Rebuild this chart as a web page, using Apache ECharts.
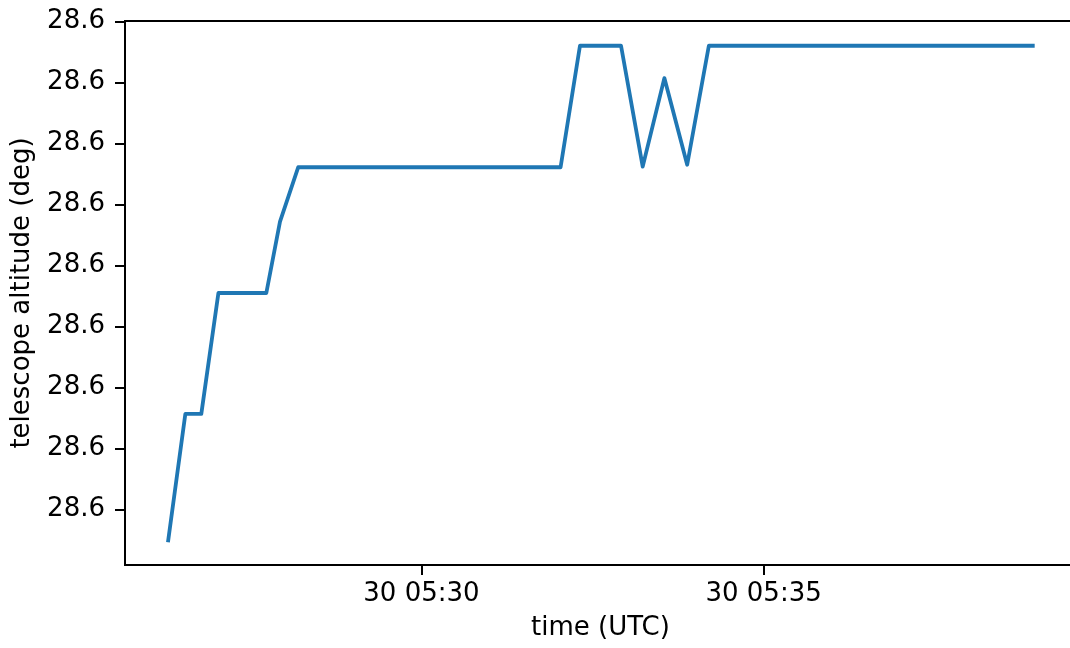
<!DOCTYPE html>
<html>
<head>
<meta charset="utf-8">
<script src="https://cdn.jsdelivr.net/npm/echarts@6/dist/echarts.min.js"></script>
<style>
html,body{margin:0;padding:0;background:#fff;}
#chart{width:1070px;height:648px;}
</style>
</head>
<body>
<div id="chart"></div>
<script>
// ---- data ----
const day = '2022-11-30';
const times = ['05:26:18','05:26:33','05:26:47','05:27:02','05:27:44','05:27:56','05:28:12',
               '05:32:02','05:32:19','05:32:55','05:33:14','05:33:33','05:33:53','05:34:12','05:38:56'];
// altitude offsets above 28.6 deg, in units of 1e-6 deg
const altitude = [-0.50, 1.57, 1.57, 3.55, 3.55, 4.72, 5.61,
                  5.61, 7.60, 7.60, 5.62, 7.07, 5.65, 7.60, 7.60];
const xTickTimes = ['05:30:00','05:35:00'];
const yTickValues = [0,1,2,3,4,5,6,7,8];
const yTickLabels = ['28.6','28.6','28.6','28.6','28.6','28.6','28.6','28.6','28.6'];

function ts(t){
  const [Y,M,D] = day.split('-').map(Number);
  const [h,m,s] = t.split(':').map(Number);
  return Date.UTC(Y, M-1, D, h, m, s);
}
function pad(n){return (n<10?'0':'')+n;}

const xs = times.map(ts);
const xTickValues = xTickTimes.map(ts);
const xMinD = Math.min(...xs), xMaxD = Math.max(...xs);
const yMinD = Math.min(...altitude), yMaxD = Math.max(...altitude);
const xm = (xMaxD - xMinD) * 0.05, ym = (yMaxD - yMinD) * 0.05;

const font = 'DejaVu Sans';
const chart = echarts.init(document.getElementById('chart'));
chart.setOption({
  animation: false,
  backgroundColor: '#fff',
  grid: {left:125, top:21, width:951, height:544, outerBoundsMode:'none', containLabel:false,
         show:true, borderColor:'#000', borderWidth:2, backgroundColor:'transparent'},
  xAxis: {
    type: 'value', min: xMinD - xm, max: xMaxD + xm,
    axisLine: {show:true, onZero:false, lineStyle:{color:'#000', width:2}},
    axisTick: {show:true, length:10, lineStyle:{color:'#000', width:2}, customValues: xTickValues},
    axisLabel: {customValues: xTickValues, fontSize:26, color:'#000', fontFamily:font, margin:16,
      formatter: v => { const d = new Date(v); return pad(d.getUTCDate()) + ' ' + pad(d.getUTCHours()) + ':' + pad(d.getUTCMinutes()); }},
    splitLine: {show:false},
    name: 'time (UTC)', nameLocation: 'middle', nameGap: 50,
    nameTextStyle: {fontSize:26, color:'#000', fontFamily:font}
  },
  yAxis: {
    type: 'value', min: yMinD - ym, max: yMaxD + ym,
    axisLine: {show:true, onZero:false, lineStyle:{color:'#000', width:2}},
    axisTick: {show:true, length:10, lineStyle:{color:'#000', width:2}, customValues: yTickValues},
    axisLabel: {customValues: yTickValues, fontSize:26, color:'#000', fontFamily:font, margin:20,
      formatter: v => { const i = yTickValues.indexOf(Math.round(v)); return i >= 0 ? yTickLabels[i] : ''; }},
    splitLine: {show:false},
    name: 'telescope altitude (deg)', nameLocation: 'middle', nameGap: 90, nameRotate: 90,
    nameTextStyle: {fontSize:26, color:'#000', fontFamily:font}
  },
  series: [{
    type: 'line',
    data: xs.map((x,i) => [x, altitude[i]]),
    showSymbol: false, symbol: 'none',
    lineStyle: {color:'#1f77b4', width:3.8, join:'round', cap:'square'},
    itemStyle: {color:'#1f77b4'},
    emphasis: {disabled:true},
    clip: true
  }]
});
</script>
</body>
</html>
